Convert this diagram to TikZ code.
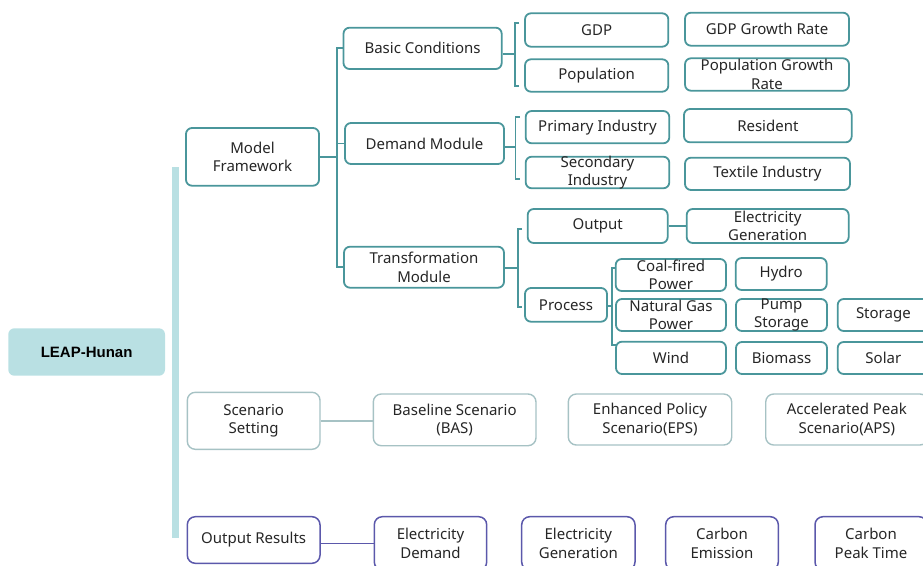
\documentclass[tikz,border=0pt]{standalone}
\usepackage{fontspec}
\setmainfont{Noto Sans}
\newfontfamily\leapfont{Liberation Sans}
\definecolor{tealc}{HTML}{4A969B}
\definecolor{scenc}{HTML}{A6C2C4}
\definecolor{outc}{HTML}{5B58AB}
\definecolor{leapc}{HTML}{B9E0E3}
\definecolor{txtc}{HTML}{262626}
\tikzset{
  txt/.style={font=\fontsize{15}{18.5}\selectfont, text=txtc, align=center, inner sep=0pt},
  btxt/.style={font=\leapfont\fontsize{15}{18.5}\selectfont\bfseries, text=black, align=center, inner sep=0pt},
  tbox/.style={draw=tealc, line width=1.8pt, rounded corners=6pt},
  sbox/.style={draw=scenc, line width=1.4pt, rounded corners=8pt},
  obox/.style={draw=outc, line width=1.5pt, rounded corners=8pt},
  lbox/.style={fill=leapc, rounded corners=6pt},
  barbox/.style={fill=leapc},
  tline/.style={draw=tealc, line width=1.8pt},
  sline/.style={draw=scenc, line width=1.4pt},
  oline/.style={draw=outc, line width=1.5pt},
}
\newcommand\bx[7]{\node[#1, inner sep=0pt, minimum width={(#5-#3)*1pt}, minimum height={(#6-#4)*1pt}, label={[txt]center:{#7}}] (#2) at ({(#3+#5)/2},{(#4+#6)/2}) {};}
\begin{document}
\begin{tikzpicture}[x=1pt,y=-1pt]
\useasboundingbox (0,0) rectangle (923,565);
\clip (0,0) rectangle (923,565);
% root
\node[lbox, inner sep=0pt, minimum width=156.7pt, minimum height=47.4pt, label={[btxt]center:LEAP-Hunan}] (leap) at (86.65,352) {};
\bx{barbox}{bar}{172.3}{166.7}{179}{537.7}{}
% level 1
\bx{tbox}{mf}{186}{128}{319}{185.7}{Model\\Framework}
\bx{sbox}{ss}{187.3}{392.3}{320}{449.3}{Scenario\\Setting}
\bx{obox}{or}{187.3}{516.7}{320}{563.3}{Output Results}
% level 2
\bx{tbox}{bc}{343.5}{27.7}{501.7}{69}{Basic Conditions}
\bx{tbox}{dm}{345}{123}{504}{164}{Demand Module}
\bx{tbox}{tm}{344}{246.7}{504}{287.7}{Transformation\\Module}
% basic
\bx{tbox}{gdp}{525}{13.3}{668.3}{46.7}{GDP}
\bx{tbox}{pop}{525}{59.3}{668.3}{91.7}{Population}
\bx{tbox}{gdpg}{685}{12.7}{849}{45.7}{GDP Growth Rate}
\bx{tbox}{popg}{685}{58.3}{849}{90.7}{Population Growth\\Rate}
% demand
\bx{tbox}{pri}{525.7}{111}{669.3}{143.3}{Primary Industry}
\bx{tbox}{sec}{525.7}{156.7}{669.3}{188.3}{Secondary\\Industry}
\bx{tbox}{res}{684}{109}{851.7}{142.3}{Resident}
\bx{tbox}{tex}{685}{157.7}{850}{190}{Textile Industry}
% transformation
\bx{tbox}{out}{527.7}{209}{667.7}{243}{Output}
\bx{tbox}{eg}{686.7}{209}{848.7}{243}{Electricity\\Generation}
\bx{tbox}{proc}{525}{288}{607}{321.7}{Process}
\bx{tbox}{coal}{615.7}{259}{726}{291}{Coal-fired\\Power}
\bx{tbox}{gas}{616}{299}{726}{331}{Natural Gas\\Power}
\bx{tbox}{wind}{616}{341.7}{726}{374}{Wind}
\bx{tbox}{hydro}{735.7}{258}{826.7}{290}{Hydro}
\bx{tbox}{pump}{736}{299}{827}{331}{Pump\\Storage}
\bx{tbox}{bio}{736}{342}{827}{374}{Biomass}
\bx{tbox}{stor}{837.7}{299}{929}{331}{Storage}
\bx{tbox}{sol}{837.7}{342}{929}{374}{Solar}
% scenarios
\bx{sbox}{bas}{373.3}{394}{536}{445.7}{Baseline Scenario\\(BAS)}
\bx{sbox}{eps}{568.3}{394}{731.7}{445}{Enhanced Policy\\Scenario(EPS)}
\bx{sbox}{aps}{765.7}{394}{928}{445}{Accelerated Peak\\Scenario(APS)}
% outputs
\bx{obox}{ed}{374.3}{516.7}{486.7}{570}{Electricity\\Demand}
\bx{obox}{eg2}{521.7}{516.7}{635}{570}{Electricity\\Generation}
\bx{obox}{ce}{665.7}{516.7}{778.3}{570}{Carbon\\Emission}
\bx{obox}{cpt}{815}{516.7}{927}{570}{Carbon\\Peak Time}
% junction coordinates
\coordinate (mfj) at (337,158);
\coordinate (bj) at (515,54);
\coordinate (bjt) at (519,23);
\coordinate (bjb) at (519,86);
\coordinate (dj) at (515.5,147);
\coordinate (djt) at (519.5,117);
\coordinate (djb) at (519.5,179);
\coordinate (tj) at (518,268);
\coordinate (tjt) at (522,229);
\coordinate (tjb) at (522,307);
\coordinate (pj) at (612,306);
\coordinate (pjt) at (616,268);
\coordinate (pjb) at (616,345);
% connectors level 1 -> 2
\draw[tline] (mf.east) -- (mf.east -| mfj);
\draw[tline] (bc.west) -| (mfj) |- (tm.west);
\draw[tline] (dm.west) -- (dm.west -| mfj);
% basic bracket
\draw[tline] (bc.east |- bj) -- (bj);
\draw[tline] (bjt) -- (bjt -| bj) -- (bjb -| bj) -- (bjb);
% demand bracket
\draw[tline] (dm.east |- dj) -- (dj);
\draw[tline] (djt) -- (djt -| dj) -- (djb -| dj) -- (djb);
% transformation bracket
\draw[tline] (tm.east |- tj) -- (tj);
\draw[tline] (tjt) -- (tjt -| tj) -- (tjb -| tj) -- (tjb);
\draw[tline] (out.east) -- (eg.west);
% process bracket
\draw[tline] (proc.east |- pj) -- (pj);
\draw[tline] (pjt) -- (pjt -| pj) -- (pjb -| pj) -- (pjb);
% scenario and output
\draw[sline] (ss.east) -- (ss.east -| bas.west);
\draw[oline] (or.east |- ed.west) -- (ed.west);
\end{tikzpicture}
\end{document}
